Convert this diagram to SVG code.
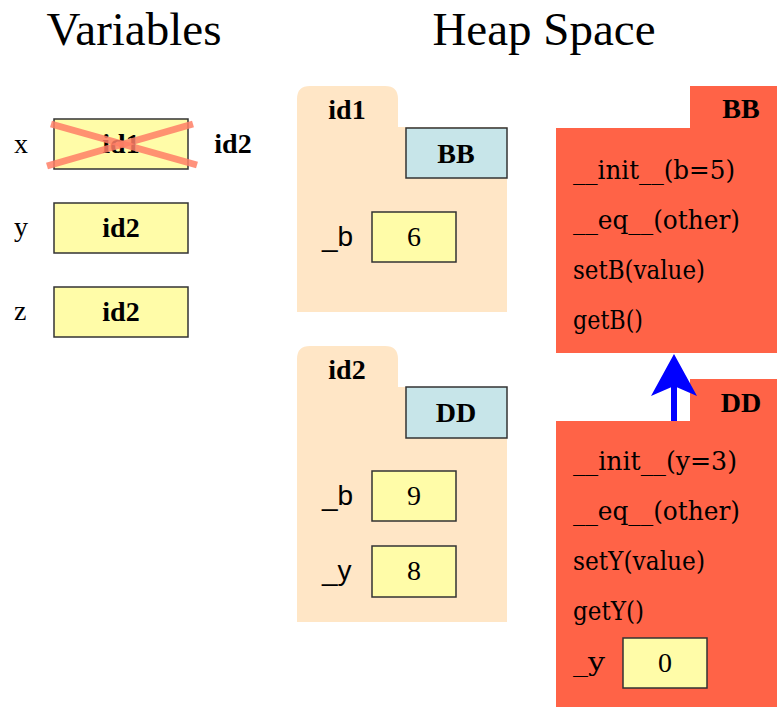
<svg xmlns="http://www.w3.org/2000/svg" width="777" height="708" viewBox="0 0 777 708">
<style>
.title{font-family:"Liberation Serif",serif;font-size:47px;fill:#000;text-anchor:middle}
.var{font-family:"Liberation Serif",serif;font-size:28px;fill:#000}
.bold{font-family:"Liberation Serif",serif;font-size:28px;font-weight:bold;fill:#000;text-anchor:middle}
.val{font-family:"Liberation Serif",serif;font-size:28px;fill:#000;text-anchor:middle}
.attr{font-family:"Liberation Sans",sans-serif;font-size:28px;fill:#000}
.meth{font-family:"DejaVu Serif Condensed","DejaVu Serif",serif;font-size:26px;fill:#000}
.ybox{fill:#FFFCA8;stroke:#333;stroke-width:1.5}
.bbox{fill:#C7E5E9;stroke:#333;stroke-width:1.5}
.folder{fill:#FFE6C6}
.cls{fill:#FF6347}
</style>
<rect width="777" height="708" fill="#fff"/>
<text class="title" x="134" y="45">Variables</text>
<text class="title" x="544" y="45">Heap Space</text>

<g id="var-x">
<text class="var" x="14" y="153">x</text>
<rect class="ybox" x="54" y="119" width="134" height="50"/>
<text class="bold" x="121" y="153">id1</text>
<text class="bold" x="233" y="153">id2</text>
</g>
<g id="var-y">
<text class="var" x="14" y="236">y</text>
<rect class="ybox" x="54" y="203" width="134" height="50"/>
<text class="bold" x="121" y="237">id2</text>
</g>
<g id="var-z">
<text class="var" x="14" y="320">z</text>
<rect class="ybox" x="54" y="287" width="134" height="50"/>
<text class="bold" x="121" y="321">id2</text>
</g>

<g id="obj-id1">
<path class="folder" d="M297,312 V99 Q297,86 310,86 H385 Q398,86 398,99 V127 H507 V312 Z"/>
<text class="bold" x="347" y="119">id1</text>
<rect class="bbox" x="406" y="128" width="101" height="50"/>
<text class="bold" x="456" y="163">BB</text>
<text class="attr" x="322" y="246">_b</text>
<rect class="ybox" x="372" y="212" width="84" height="50"/>
<text class="val" x="414" y="246">6</text>
</g>

<g id="obj-id2">
<path class="folder" d="M297,622 V359 Q297,346 310,346 H385 Q398,346 398,359 V387 H507 V622 Z"/>
<text class="bold" x="347" y="379">id2</text>
<rect class="bbox" x="406" y="387" width="101" height="51"/>
<text class="bold" x="456" y="422">DD</text>
<text class="attr" x="322" y="505">_b</text>
<rect class="ybox" x="372" y="471" width="84" height="50"/>
<text class="val" x="414" y="505">9</text>
<text class="attr" x="322" y="580">_y</text>
<rect class="ybox" x="372" y="546" width="84" height="51"/>
<text class="val" x="414" y="580">8</text>
</g>

<g id="class-BB">
<path class="cls" d="M556,128 H690 V86 H777 V353 H556 Z"/>
<text class="bold" x="741" y="118">BB</text>
<text class="meth" x="573" y="179" textLength="162" lengthAdjust="spacingAndGlyphs">__init__(b=5)</text>
<text class="meth" x="573" y="229" textLength="167" lengthAdjust="spacingAndGlyphs">__eq__(other)</text>
<text class="meth" x="573" y="279" textLength="132" lengthAdjust="spacingAndGlyphs">setB(value)</text>
<text class="meth" x="573" y="329" textLength="70" lengthAdjust="spacingAndGlyphs">getB()</text>
</g>

<g id="class-DD">
<path class="cls" d="M556,421 H690 V379 H777 V707 H556 Z"/>
<text class="bold" x="741" y="412">DD</text>
<text class="meth" x="573" y="470" textLength="164" lengthAdjust="spacingAndGlyphs">__init__(y=3)</text>
<text class="meth" x="573" y="520" textLength="167" lengthAdjust="spacingAndGlyphs">__eq__(other)</text>
<text class="meth" x="573" y="570" textLength="132" lengthAdjust="spacingAndGlyphs">setY(value)</text>
<text class="meth" x="573" y="620" textLength="71" lengthAdjust="spacingAndGlyphs">getY()</text>
<text class="meth" x="573" y="671" textLength="32" lengthAdjust="spacingAndGlyphs">_y</text>
<rect class="ybox" x="623" y="638" width="84" height="50"/>
<text class="val" x="665" y="672">0</text>
</g>

<g id="connectors">
<line x1="674" y1="421" x2="674" y2="384" stroke="#0000FF" stroke-width="6"/>
<polygon points="674,354 697,396 674,386 651,396" fill="#0000FF"/>
<g stroke="#FF7F66" stroke-width="7" stroke-opacity="0.85" stroke-linecap="butt">
<line x1="47" y1="166" x2="193" y2="124"/>
<line x1="51" y1="124" x2="197" y2="165"/>
</g>
</g>
</svg>
